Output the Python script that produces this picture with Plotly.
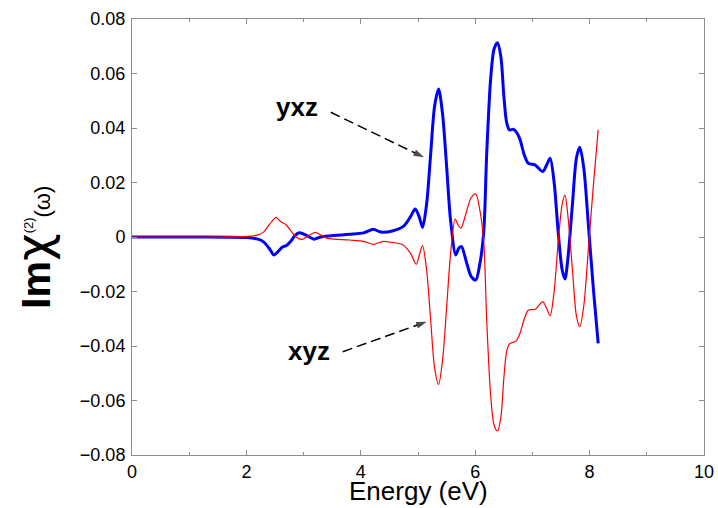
import plotly.graph_objects as go

# ---- data ----
energy_yxz = [0.0, 1.0, 2.0, 2.2, 2.3, 2.4, 2.48, 2.56, 2.63, 2.7, 2.78, 2.85, 2.93,
              3.05, 3.18, 3.3, 3.45, 3.8, 4.05, 4.22, 4.35, 4.55, 4.75, 4.87, 4.95,
              5.02, 5.08, 5.15, 5.22, 5.29, 5.36, 5.43, 5.5, 5.57, 5.66, 5.71, 5.76,
              5.85, 5.93, 6.01, 6.08, 6.15, 6.2, 6.27, 6.33, 6.39, 6.45, 6.5, 6.55,
              6.6, 6.67, 6.72, 6.78, 6.86, 6.93, 7.05, 7.18, 7.25, 7.31, 7.38, 7.45,
              7.52, 7.57, 7.62, 7.7, 7.77, 7.83, 7.9, 7.98, 8.07, 8.15]
im_yxz = [0.0, 0.0, -0.0002, -0.0008, -0.0018, -0.0042, -0.0066, -0.0052, -0.0037,
          -0.0031, -0.0015, 0.0006, 0.0016, 0.0006, -0.0008, 0.0, 0.0004, 0.0010,
          0.0015, 0.0028, 0.0018, 0.0022, 0.0040, 0.0075, 0.0103, 0.0075, 0.0035,
          0.0120, 0.0300, 0.0480, 0.0543, 0.0450, 0.0260, 0.0060, -0.0066, -0.0042,
          -0.0035, -0.0095, -0.0145, -0.0158, -0.0100, 0.0020, 0.0300, 0.0580,
          0.0690, 0.0713, 0.0660, 0.0520, 0.0420, 0.0393, 0.0395, 0.0385, 0.0360,
          0.0300, 0.0270, 0.0264, 0.0240, 0.0265, 0.0289, 0.0200, 0.0020, -0.0120,
          -0.0154, -0.0080, 0.0120, 0.0290, 0.0329, 0.0250, 0.0040, -0.0200, -0.0390]

energy_xyz = [0.0, 1.0, 2.0, 2.2, 2.3, 2.4, 2.52, 2.6, 2.69, 2.78, 2.88, 2.97, 3.08,
              3.2, 3.3, 3.4, 3.8, 4.05, 4.22, 4.39, 4.55, 4.74, 4.87, 4.97, 5.03,
              5.08, 5.15, 5.22, 5.29, 5.36, 5.43, 5.5, 5.57, 5.65, 5.7, 5.75, 5.85,
              5.93, 6.01, 6.08, 6.15, 6.2, 6.27, 6.33, 6.39, 6.45, 6.5, 6.55, 6.6,
              6.67, 6.72, 6.78, 6.86, 6.93, 7.05, 7.18, 7.25, 7.31, 7.38, 7.45, 7.52,
              7.57, 7.62, 7.7, 7.77, 7.83, 7.9, 7.98, 8.07, 8.15]
im_xyz = [0.0, 0.0, 0.0002, 0.0008, 0.0018, 0.0045, 0.0072, 0.0056, 0.0046, 0.0022,
          -0.0002, -0.0009, 0.0004, 0.0017, 0.0008, -0.0004, -0.0011, -0.0016,
          -0.0027, -0.0016, -0.0020, -0.0029, -0.0060, -0.0100, -0.0060, -0.0032,
          -0.0120, -0.0300, -0.0480, -0.0541, -0.0450, -0.0260, -0.0060, 0.0066,
          0.0045, 0.0032, 0.0095, 0.0145, 0.0158, 0.0100, -0.0020, -0.0300, -0.0580,
          -0.0690, -0.0712, -0.0660, -0.0520, -0.0420, -0.0392, -0.0386, -0.0380,
          -0.0355, -0.0300, -0.0268, -0.0265, -0.0237, -0.0262, -0.0289, -0.0200,
          -0.0020, 0.0120, 0.0154, 0.0080, -0.0120, -0.0290, -0.0329, -0.0250,
          -0.0040, 0.0200, 0.0393]

x_ticks = [0, 2, 4, 6, 8, 10]
y_ticks = [-0.08, -0.06, -0.04, -0.02, 0, 0.02, 0.04, 0.06, 0.08]
x_tick_labels = ["0", "2", "4", "6", "8", "10"]
y_tick_labels = ["\u22120.08", "\u22120.06", "\u22120.04", "\u22120.02", "0",
                 "0.02", "0.04", "0.06", "0.08"]

# annotation arrows: (tail, head) in data units
arrow_yxz = ([3.474, 5.105], [0.04576, 0.02925])
arrow_xyz = ([3.684, 5.152], [-0.04209, -0.03108])

FONT = "Liberation Sans, Arial, Helvetica, sans-serif"

fig = go.Figure()
fig.add_trace(go.Scatter(x=energy_yxz, y=im_yxz, mode="lines",
                         line=dict(color="#0000ff", width=3, shape="spline", smoothing=0.8),
                         showlegend=False, hoverinfo="skip"))
fig.add_trace(go.Scatter(x=energy_xyz, y=im_xyz, mode="lines",
                         line=dict(color="#ff0000", width=1.2, shape="spline", smoothing=0.8),
                         showlegend=False, hoverinfo="skip"))

# dashed arrows drawn as line traces with an arrow marker at the head
for ax_, ay_ in (arrow_yxz, arrow_xyz):
    fig.add_trace(go.Scatter(x=ax_, y=ay_, mode="lines+markers",
                             line=dict(color="black", width=1.5, dash="10px,5px"),
                             marker=dict(symbol=["circle", "arrow"], size=[0, 11],
                                         angleref="previous", color="black",
                                         line=dict(width=0)),
                             showlegend=False, hoverinfo="skip", cliponaxis=False))

axis_common = dict(showline=True, linecolor="#8c8c8c", linewidth=1, mirror="ticks",
                   ticks="inside", tickcolor="#8c8c8c", showgrid=False, zeroline=False,
                   automargin=False,
                   tickfont=dict(family=FONT, size=18, color="black"))

fig.update_xaxes(range=[0, 10], tickvals=x_ticks, ticktext=x_tick_labels, ticklen=5,
                 minor=dict(dtick=1, ticks="inside", ticklen=3, tickcolor="#8c8c8c"),
                 **axis_common)
fig.update_yaxes(range=[-0.08, 0.08], tickvals=y_ticks, ticktext=y_tick_labels, ticklen=5,
                 ticklabelstandoff=2, **axis_common)

# x-axis title
fig.add_annotation(xref="paper", yref="paper", x=0.5, y=-36 / 436, xanchor="center",
                   yanchor="middle", showarrow=False, text="Energy (eV)",
                   font=dict(family=FONT, size=26, color="black"))

# y-axis title as rotated annotation
fig.add_annotation(xref="paper", yref="paper", x=-0.173, y=0.475, xanchor="center",
                   yanchor="middle", textangle=-90, showarrow=False,
                   text="<b>Im</b><span style='font-size:48px;font-family:DejaVu Sans'>χ</span>"
                        "<sup><span style='font-size:13px'>(2)</span></sup>"
                        "<span style='font-size:22px'>(ω)</span>",
                   font=dict(family=FONT, size=41, color="black"))

# labels
fig.add_annotation(x=2.893, y=0.0477, text="<b>yxz</b>", showarrow=False,
                   font=dict(family=FONT, size=26, color="black"))
fig.add_annotation(x=3.094, y=-0.0418, text="<b>xyz</b>", showarrow=False,
                   font=dict(family=FONT, size=26, color="black"))

fig.update_layout(width=718, height=508, margin=dict(l=132, r=14, t=19, b=53),
                  paper_bgcolor="white", plot_bgcolor="white",
                  font=dict(family=FONT, color="black"))

fig.write_html("out.html", config={"displayModeBar": False},
               post_script="document.body.style.margin='0px';"
                           "document.body.style.overflow='hidden';")
